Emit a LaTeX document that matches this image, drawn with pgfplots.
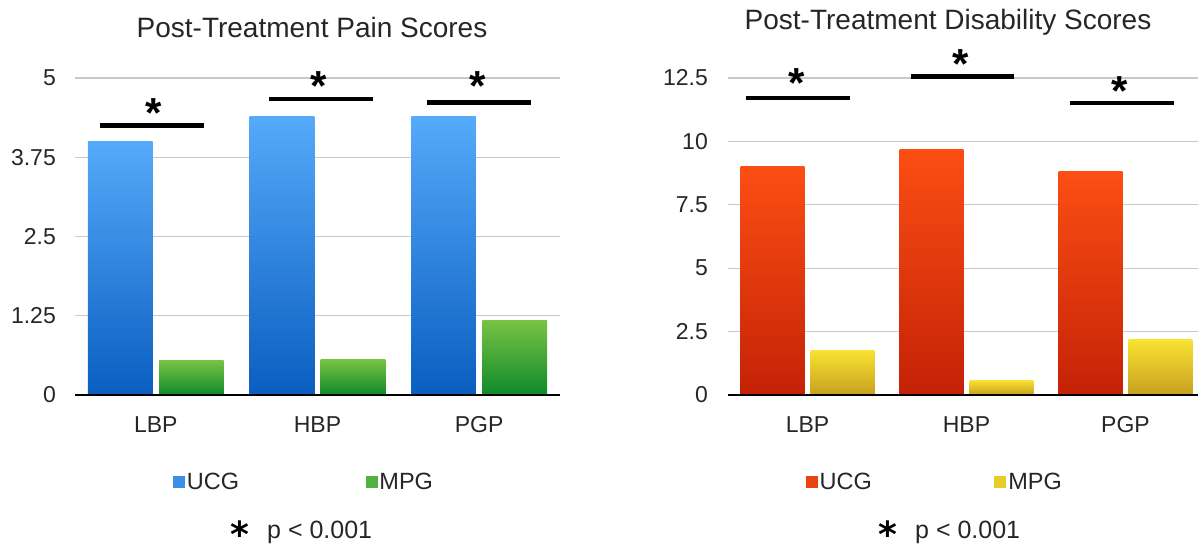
\documentclass[border=0pt]{standalone}
\usepackage{fontspec}
\setmainfont{Liberation Sans}
\newfontfamily\djv{DejaVu Sans}
\usepackage{pgfplots}
\pgfplotsset{compat=1.18}

\definecolor{txt}{HTML}{262626}
\definecolor{gridc}{HTML}{C8C8C8}
\definecolor{bluetop}{HTML}{55AAFA}
\definecolor{bluebot}{HTML}{0A5EC0}
\definecolor{greentop}{HTML}{78C244}
\definecolor{greenbot}{HTML}{0E8A2A}
\definecolor{redtop}{HTML}{FC4E14}
\definecolor{redbot}{HTML}{C42206}
\definecolor{yeltop}{HTML}{F8E232}
\definecolor{yelbot}{HTML}{C8A020}
\definecolor{legblue}{HTML}{3C8FE8}
\definecolor{leggreen}{HTML}{50B040}
\definecolor{legred}{HTML}{E8440F}
\definecolor{legyel}{HTML}{E8CC2A}

\tikzset{
  sig/.style={line width=4.5pt, black},
  star/.style={anchor=north, inner sep=0pt, yshift=7.5pt,
    font=\fontsize{42}{42}\selectfont\bfseries, text=black},
  lowstar/.style={anchor=center, inner sep=0pt,
    font=\djv\fontsize{36}{36}\selectfont\bfseries, text=black},
}

\pgfplotsset{
  panel/.style={
    anchor=south west,
    scale only axis,
    height=317pt,
    xmin=-0.5, xmax=2.5, ymin=0,
    xtick={0,1,2}, xticklabels={LBP,HBP,PGP},
    axis x line*=bottom, axis y line*=left,
    y axis line style={draw=none},
    x axis line style={draw=none},
    major tick length=0pt,
    ymajorgrids, grid style={draw=gridc, line width=1.3pt},
    tick label style={font=\fontsize{23}{23}\selectfont, text=txt},
    xticklabel style={anchor=base, yshift=-37pt, inner sep=0pt},
    /pgf/number format/assume math mode=true,
    clip=false,
    legend columns=2,
    legend cell align=left,
    legend style={draw=none, fill=none, inner sep=0pt, outer sep=0pt,
      font=\fontsize{23.5}{23.5}\selectfont, text=txt,
      nodes={inner sep=2.5pt}},
  },
}

\begin{document}
\begin{tikzpicture}
\useasboundingbox (0pt,0pt) rectangle (1198pt,546pt);

% ---------------- Left panel ----------------
\begin{axis}[panel,
  at={(75pt,151pt)}, width=485pt,
  ymax=5, ytick={0,1.25,2.5,3.75,5},
  yticklabel style={anchor=east, xshift=-19pt, inner sep=0pt},
  legend style={at={(0.202,-0.2744)}, anchor=west,
    /tikz/every even column/.append style={column sep=124pt}},
]
\addlegendimage{legend image code/.code={\fill[legblue] (0pt,-5.5pt) rectangle (11pt,5.5pt);}}
\addlegendentry{UCG}
\addlegendimage{legend image code/.code={\fill[leggreen] (0pt,-5.5pt) rectangle (11pt,5.5pt);}}
\addlegendentry{MPG}

\addplot[ybar, bar width=0.4, bar shift=-0.22, draw=none, top color=bluetop, bottom color=bluebot, forget plot] coordinates {(0,4.0)};
\addplot[ybar, bar width=0.4, bar shift=-0.22, draw=none, top color=bluetop, bottom color=bluebot, forget plot] coordinates {(1,4.4)};
\addplot[ybar, bar width=0.4, bar shift=-0.22, draw=none, top color=bluetop, bottom color=bluebot, forget plot] coordinates {(2,4.4)};
\addplot[ybar, bar width=0.4, bar shift=0.22, draw=none, top color=greentop, bottom color=greenbot, forget plot] coordinates {(0,0.54)};
\addplot[ybar, bar width=0.4, bar shift=0.22, draw=none, top color=greentop, bottom color=greenbot, forget plot] coordinates {(1,0.56)};
\addplot[ybar, bar width=0.4, bar shift=0.22, draw=none, top color=greentop, bottom color=greenbot, forget plot] coordinates {(2,1.17)};

\draw[black, line width=1.5pt] (axis cs:-0.5,0) -- (axis cs:2.5,0);

\draw[sig] (axis cs:-0.343,4.25) -- (axis cs:0.301,4.25);
\draw[sig] (axis cs:0.70,4.67) -- (axis cs:1.343,4.67);
\draw[sig] (axis cs:1.68,4.61) -- (axis cs:2.32,4.61);
\node[star] at (axis cs:-0.013,4.56) {*};
\node[star] at (axis cs:1.01,4.98) {*};
\node[star] at (axis cs:1.99,4.98) {*};
\end{axis}

% ---------------- Right panel ----------------
\begin{axis}[panel,
  at={(728pt,151pt)}, width=477pt,
  ymax=12.5, ytick={0,2.5,5,7.5,10,12.5},
  yticklabel style={anchor=east, xshift=-20pt, inner sep=0pt},
  legend style={at={(0.163,-0.2744)}, anchor=west,
    /tikz/every even column/.append style={column sep=120pt}},
]
\addlegendimage{legend image code/.code={\fill[legred] (0pt,-5.5pt) rectangle (11pt,5.5pt);}}
\addlegendentry{UCG}
\addlegendimage{legend image code/.code={\fill[legyel] (0pt,-5.5pt) rectangle (11pt,5.5pt);}}
\addlegendentry{MPG}

\addplot[ybar, bar width=0.4, bar shift=-0.22, draw=none, top color=redtop, bottom color=redbot, forget plot] coordinates {(0,9.0)};
\addplot[ybar, bar width=0.4, bar shift=-0.22, draw=none, top color=redtop, bottom color=redbot, forget plot] coordinates {(1,9.7)};
\addplot[ybar, bar width=0.4, bar shift=-0.22, draw=none, top color=redtop, bottom color=redbot, forget plot] coordinates {(2,8.8)};
\addplot[ybar, bar width=0.4, bar shift=0.22, draw=none, top color=yeltop, bottom color=yelbot, forget plot] coordinates {(0,1.75)};
\addplot[ybar, bar width=0.4, bar shift=0.22, draw=none, top color=yeltop, bottom color=yelbot, forget plot] coordinates {(1,0.58)};
\addplot[ybar, bar width=0.4, bar shift=0.22, draw=none, top color=yeltop, bottom color=yelbot, forget plot] coordinates {(2,2.17)};

\draw[black, line width=1.5pt] (axis cs:-0.5,0) -- (axis cs:2.5,0);

\draw[sig] (axis cs:-0.389,11.72) -- (axis cs:0.267,11.72);
\draw[sig] (axis cs:0.648,12.56) -- (axis cs:1.30,12.56);
\draw[sig] (axis cs:1.648,11.51) -- (axis cs:2.305,11.51);
\node[star] at (axis cs:-0.069,12.6) {*};
\node[star] at (axis cs:0.965,13.35) {*};
\node[star] at (axis cs:1.965,12.27) {*};
\end{axis}

% ---------------- Titles and notes ----------------
\node[anchor=base, inner sep=0pt, font=\fontsize{28}{28}\selectfont, text=txt] at (312pt,508pt) {Post-Treatment Pain Scores};
\node[anchor=base, inner sep=0pt, font=\fontsize{28}{28}\selectfont, text=txt] at (948pt,516pt) {Post-Treatment Disability Scores};

\node[lowstar] at (240pt,16.5pt) {⁎};
\node[anchor=base west, inner sep=0pt, font=\fontsize{25}{25}\selectfont, text=txt] at (267pt,8pt) {p < 0.001};
\node[lowstar] at (887.5pt,16.5pt) {⁎};
\node[anchor=base west, inner sep=0pt, font=\fontsize{25}{25}\selectfont, text=txt] at (915pt,8pt) {p < 0.001};
\end{tikzpicture}
\end{document}
